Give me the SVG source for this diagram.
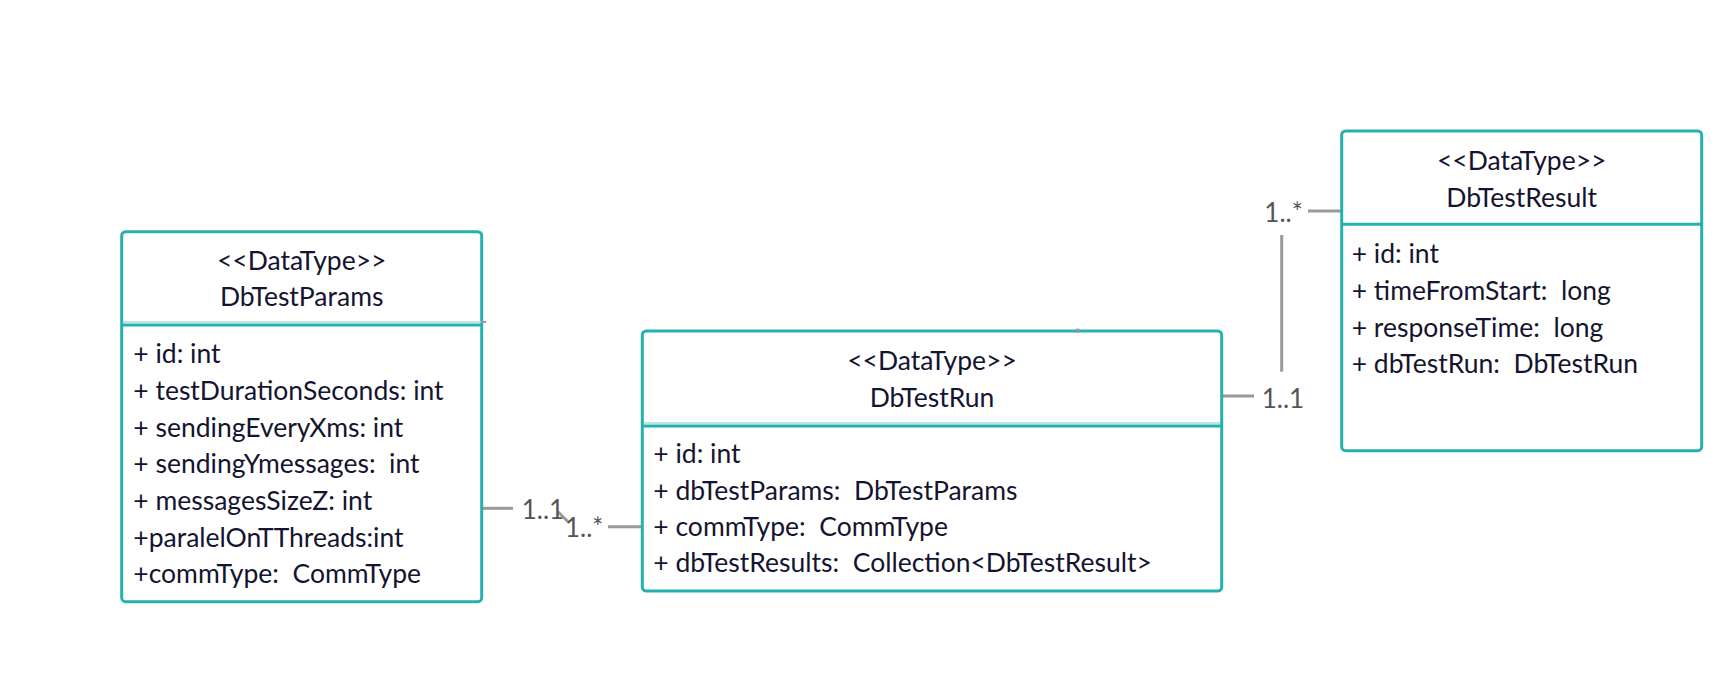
<svg xmlns="http://www.w3.org/2000/svg" width="1730" height="679" viewBox="0 0 1730 679">
<style>
.box{fill:#fff;stroke:#26b1ae;stroke-width:3}
.div{stroke:#26b1ae;stroke-width:3}
.lt{stroke:#a6dcda;stroke-width:1.5}
text{white-space:pre}
.hd{font-family:Lato,"Open Sans",sans-serif;font-size:26.5px;fill:#141430;text-anchor:middle}
.at{font-family:Lato,"Open Sans",sans-serif;font-size:26.5px;fill:#141430}
.lbl{font-family:Lato,"Open Sans",sans-serif;font-size:26px;fill:#555}
.cn{stroke:#999;stroke-width:3;fill:none}
</style>
<rect width="1730" height="679" fill="#fff"/>
<g id="connectors">
<line class="cn" x1="482" y1="508.3" x2="513" y2="508.3"/>
<line class="cn" x1="558" y1="511.7" x2="568" y2="521.7"/>
<line class="cn" x1="608" y1="526.7" x2="643" y2="526.7"/>
<text class="lbl" x="521.7" y="519">1..1</text>
<text class="lbl" x="565" y="536.7">1..*</text>
<line class="cn" x1="1222" y1="396" x2="1254" y2="396"/>
<line class="cn" x1="1281.7" y1="235" x2="1281.7" y2="371.7"/>
<line class="cn" x1="1308" y1="211" x2="1342" y2="211"/>
<text class="lbl" x="1261.7" y="408.3">1..1</text>
<text class="lbl" x="1264.3" y="221.7">1..*</text>
</g>
<g id="DbTestParams">
<rect class="box" x="121.7" y="231.7" width="360" height="370" rx="4"/>
<line class="lt" x1="123" y1="322" x2="481" y2="322"/>
<line stroke="#999" stroke-width="2" x1="481" y1="322" x2="486" y2="322"/>
<line class="div" x1="121.7" y1="325" x2="481.7" y2="325"/>
<text class="hd" x="301.7" y="270">&lt;&lt;DataType&gt;&gt;</text>
<text class="hd" x="301.7" y="306">DbTestParams</text>
<text class="at" x="133.3" y="363.3">+ id: int</text>
<text class="at" x="133.3" y="400">+ testDurationSeconds: int</text>
<text class="at" x="133.3" y="436.7">+ sendingEveryXms: int</text>
<text class="at" x="133.3" y="473.3">+ sendingYmessages:  int</text>
<text class="at" x="133.3" y="510">+ messagesSizeZ: int</text>
<text class="at" x="133.3" y="546.7">+paralelOnTThreads:int</text>
<text class="at" x="133.3" y="583.3">+commType:  CommType</text>
</g>
<g id="DbTestRun">
<rect class="box" x="642.3" y="331" width="579.4" height="260" rx="4"/>
<rect x="1075.7" y="328.7" width="4" height="4" fill="#999"/>
<line class="lt" x1="644" y1="423" x2="1220" y2="423"/>
<line class="div" x1="642.3" y1="426" x2="1221.7" y2="426"/>
<text class="hd" x="932" y="370">&lt;&lt;DataType&gt;&gt;</text>
<text class="hd" x="932" y="406.7">DbTestRun</text>
<text class="at" x="653.3" y="463.3">+ id: int</text>
<text class="at" x="653.3" y="500">+ dbTestParams:  DbTestParams</text>
<text class="at" x="653.3" y="536">+ commType:  CommType</text>
<text class="at" x="653.3" y="571.7">+ dbTestResults:  Collection&lt;DbTestResult&gt;</text>
</g>
<g id="DbTestResult">
<rect class="box" x="1341.7" y="131" width="360" height="319.7" rx="4"/>
<line class="div" x1="1341.7" y1="224.3" x2="1701.7" y2="224.3"/>
<text class="hd" x="1521.7" y="170">&lt;&lt;DataType&gt;&gt;</text>
<text class="hd" x="1521.7" y="206.7">DbTestResult</text>
<text class="at" x="1351.7" y="263.3">+ id: int</text>
<text class="at" x="1351.7" y="300">+ timeFromStart:  long</text>
<text class="at" x="1351.7" y="336.7">+ responseTime:  long</text>
<text class="at" x="1351.7" y="373.3">+ dbTestRun:  DbTestRun</text>
</g>
</svg>
